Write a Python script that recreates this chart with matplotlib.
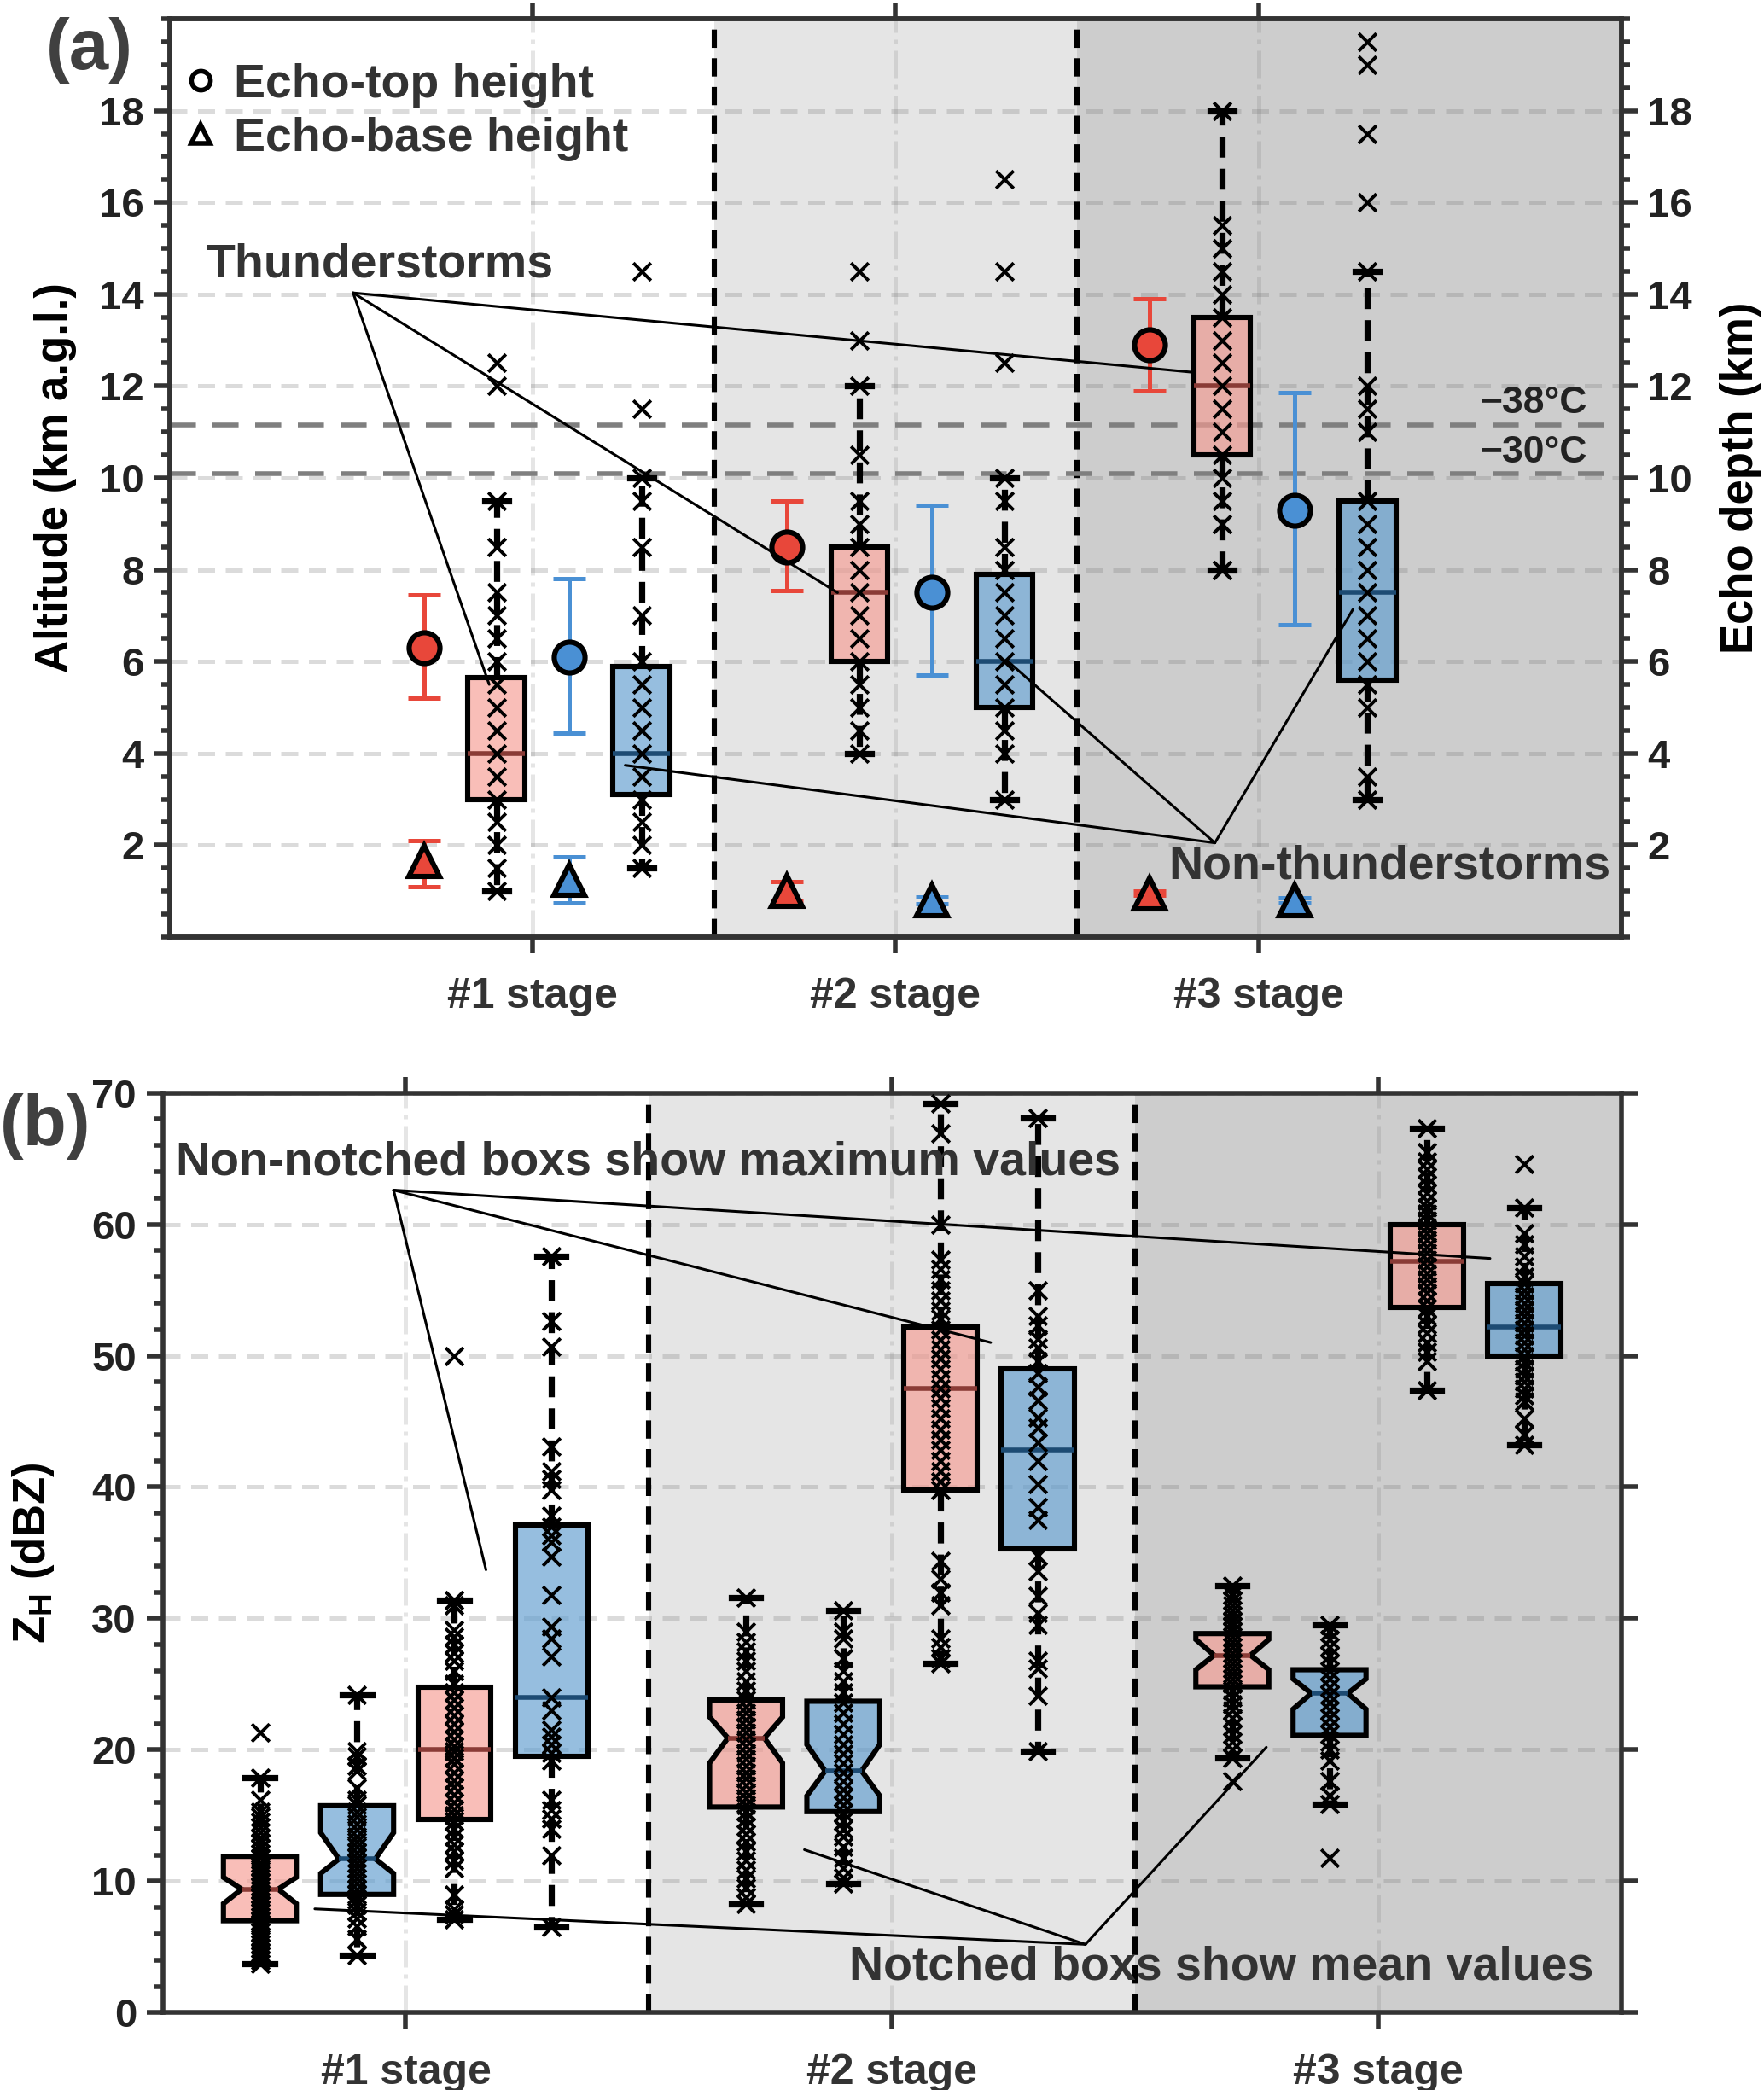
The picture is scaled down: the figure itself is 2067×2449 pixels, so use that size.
import matplotlib.pyplot as plt
import matplotlib.ticker as mticker
from matplotlib.lines import Line2D
import numpy as np

plt.rcParams['font.family'] = ['Liberation Sans', 'DejaVu Sans']
plt.rcParams['font.weight'] = 'bold'
plt.rcParams['mathtext.fontset'] = 'custom'
plt.rcParams['mathtext.rm'] = 'Liberation Sans:bold'
plt.rcParams['mathtext.bf'] = 'Liberation Sans:bold'
plt.rcParams['mathtext.it'] = 'Liberation Sans:bold'

# ---------------- data ----------------
stages = ['#1 stage', '#2 stage', '#3 stage']
stage_x = np.array([1, 2, 3])

# (a) echo-top / echo-base heights (mean and range)
top_thund = [6.3, 8.5, 12.9]
top_thund_lo = [5.2, 7.55, 11.9]
top_thund_hi = [7.45, 9.5, 13.9]
top_non = [6.1, 7.5, 9.3]
top_non_lo = [4.45, 5.7, 6.8]
top_non_hi = [7.8, 9.4, 11.85]
base_thund = [1.65, 1.0, 0.95]
base_thund_lo = [1.1, 0.8, 0.9]
base_thund_hi = [2.1, 1.2, 1.0]
base_non = [1.25, 0.8, 0.8]
base_non_lo = [0.75, 0.72, 0.75]
base_non_hi = [1.75, 0.88, 0.85]

# (a) echo depth boxes
depth_thund_q1 = [3.0, 6.0, 10.5]
depth_thund_med = [4.0, 7.5, 12.0]
depth_thund_q3 = [5.65, 8.5, 13.5]
depth_thund_lo = [1.0, 4.0, 8.0]
depth_thund_hi = [9.5, 12.0, 18.0]
depth_non_q1 = [3.1, 5.0, 5.6]
depth_non_med = [4.0, 6.0, 7.5]
depth_non_q3 = [5.9, 7.9, 9.5]
depth_non_lo = [1.5, 3.0, 3.0]
depth_non_hi = [10.0, 10.0, 14.5]

depth_thund_pts = [
    [1.0, 1.5, 2.0, 2.5, 3.0, 3.5, 4.0, 4.5, 5.0, 5.5, 6.0, 6.5, 7.0, 7.5, 8.5, 9.5, 12.0, 12.5],
    [4.0, 4.5, 5.0, 5.5, 6.0, 6.5, 7.0, 7.5, 8.0, 8.5, 9.0, 9.5, 10.5, 12.0, 13.0, 14.5],
    [8.0, 9.0, 9.5, 10.0, 10.5, 11.0, 11.5, 12.0, 12.5, 13.0, 13.5, 14.0, 14.5, 15.0, 15.5, 18.0],
]
depth_non_pts = [
    [1.5, 2.0, 2.5, 3.0, 3.5, 4.0, 4.5, 5.0, 5.5, 6.0, 7.0, 8.5, 9.5, 10.0, 11.5, 14.5],
    [3.0, 4.0, 4.5, 5.0, 5.5, 6.0, 6.5, 7.0, 7.5, 8.0, 8.5, 9.5, 10.0, 12.5, 14.5, 16.5],
    [3.0, 3.5, 5.0, 5.5, 6.0, 6.5, 7.0, 7.5, 8.0, 8.5, 9.0, 9.5, 11.0, 11.5, 12.0, 14.5,
     16.0, 17.5, 19.0, 19.5],
]
iso_38, iso_30 = 11.15, 10.1

# (b) ZH mean values (notched)
mean_thund_q1 = [7.0, 15.65, 24.8]
mean_thund_med = [9.4, 20.9, 27.2]
mean_thund_q3 = [11.9, 23.8, 28.85]
mean_thund_cilo = [8.3, 19.0, 26.1]
mean_thund_cihi = [10.3, 22.5, 28.4]
mean_thund_lo = [3.7, 8.3, 19.4]
mean_thund_hi = [17.9, 31.6, 32.5]
mean_non_q1 = [9.0, 15.3, 21.1]
mean_non_med = [11.7, 18.4, 24.3]
mean_non_q3 = [15.75, 23.7, 26.1]
mean_non_cilo = [10.6, 16.5, 23.1]
mean_non_cihi = [13.7, 20.4, 25.4]
mean_non_lo = [4.4, 9.8, 15.9]
mean_non_hi = [24.2, 30.6, 29.5]

# (b) ZH maximum values (plain)
max_thund_q1 = [14.7, 39.8, 53.7]
max_thund_med = [20.0, 47.5, 57.2]
max_thund_q3 = [24.8, 52.2, 60.0]
max_thund_lo = [7.1, 26.6, 47.4]
max_thund_hi = [31.4, 69.2, 67.3]
max_non_q1 = [19.5, 35.3, 50.0]
max_non_med = [24.0, 42.8, 52.2]
max_non_q3 = [37.1, 49.0, 55.5]
max_non_lo = [6.5, 19.9, 43.2]
max_non_hi = [57.6, 68.1, 61.3]

mean_thund_pts = [
    [3.7, 4.0, 4.3, 4.6, 4.9, 5.2, 5.5, 5.8, 6.1, 6.4, 6.8, 7.0, 7.3, 7.6, 7.9, 8.2, 8.5, 8.8,
     9.0, 9.3, 9.6, 9.9, 10.2, 10.5, 10.8, 11.1, 11.4, 11.8, 12.1, 12.5, 12.9, 13.3, 13.7,
     14.1, 14.5, 14.9, 15.3, 16.2, 17.9, 21.3],
    [8.3, 8.8, 9.5, 10.2, 10.9, 11.6, 12.3, 13.0, 13.6, 14.2, 14.8, 15.3, 15.8, 16.3, 16.8,
     17.3, 17.8, 18.3, 18.8, 19.3, 19.8, 20.3, 20.8, 21.3, 21.8, 22.3, 22.8, 23.3, 23.8,
     24.5, 25.2, 26.0, 26.8, 27.5, 28.2, 29.0, 31.6],
    [17.6, 19.4, 20.0, 20.6, 21.2, 21.8, 22.4, 23.0, 23.5, 24.0, 24.5, 25.0, 25.4, 25.8,
     26.2, 26.6, 27.0, 27.4, 27.8, 28.2, 28.6, 29.0, 29.4, 29.8, 30.2, 30.6, 31.0, 31.4,
     31.8, 32.5],
]
mean_non_pts = [
    [4.4, 5.6, 6.6, 7.2, 7.7, 8.2, 8.6, 9.0, 9.4, 9.8, 10.2, 10.6, 11.0, 11.4, 11.8, 12.2,
     12.6, 13.0, 13.4, 13.9, 14.4, 14.9, 15.3, 15.8, 16.2, 17.1, 18.4, 18.8, 19.5, 19.9, 24.2],
    [9.8, 10.3, 11.0, 11.8, 12.6, 13.4, 14.0, 14.6, 15.2, 15.8, 16.4, 17.0, 17.6, 18.3, 19.0,
     19.7, 20.4, 21.2, 22.0, 22.8, 23.6, 24.4, 25.2, 26.0, 27.0, 28.5, 29.0, 30.6],
    [11.8, 15.9, 16.5, 17.6, 19.2, 20.0, 20.6, 21.2, 21.8, 22.4, 23.0, 23.6, 24.2, 24.8,
     25.4, 26.0, 26.6, 27.2, 27.8, 28.4, 29.0, 29.5],
]
max_thund_pts = [
    [7.1, 7.5, 7.9, 9.0, 11.0, 11.6, 12.3, 12.8, 13.4, 14.0, 14.6, 15.0, 15.5, 16.0, 16.6,
     17.2, 17.7, 18.3, 18.9, 19.4, 19.9, 20.3, 20.8, 21.4, 22.0, 22.6, 23.2, 23.8, 24.4,
     25.0, 26.0, 26.8, 27.4, 28.0, 28.6, 29.1, 31.0, 31.4, 50.0],
    [26.6, 27.0, 27.8, 28.5, 31.0, 32.0, 33.0, 34.4, 39.8, 40.4, 41.2, 42.0, 42.8, 43.6,
     44.4, 45.2, 46.0, 46.8, 47.5, 48.2, 49.0, 49.8, 50.5, 51.2, 52.0, 52.8, 53.4, 54.2,
     55.0, 55.8, 56.6, 57.3, 60.0, 66.9, 69.2],
    [47.4, 49.6, 50.3, 51.0, 51.7, 52.4, 53.0, 53.6, 54.2, 54.8, 55.3, 55.8, 56.3, 56.8,
     57.3, 57.8, 58.3, 58.8, 59.3, 59.8, 60.3, 60.8, 61.3, 61.8, 62.4, 63.0, 63.6, 64.2,
     64.8, 65.5, 67.3],
]
max_non_pts = [
    [6.5, 12.0, 14.0, 14.8, 15.4, 16.2, 19.2, 19.8, 20.4, 21.0, 21.5, 23.0, 24.0, 27.1,
     28.5, 29.4, 31.8, 34.7, 35.8, 36.3, 37.0, 37.8, 39.8, 40.6, 41.2, 43.1, 50.7, 52.6, 57.6],
    [19.9, 24.1, 26.2, 26.8, 29.5, 30.4, 31.7, 33.6, 34.8, 37.5, 38.5, 40.2, 42.0, 43.4,
     44.5, 45.3, 46.6, 47.6, 48.7, 49.6, 50.6, 51.3, 52.3, 53.0, 55.0, 68.1],
    [43.2, 44.0, 45.2, 46.5, 47.0, 47.5, 48.0, 48.5, 49.0, 49.5, 50.0, 50.5, 51.0, 51.5,
     52.0, 52.5, 53.0, 53.5, 54.0, 54.5, 55.0, 55.5, 56.0, 56.8, 57.6, 58.5, 59.3, 61.3, 64.6],
]

# ---------------- styles ----------------
RED = '#e8473a'
BLUE = '#4a90d4'
RED_FACE = (0.965, 0.61, 0.575, 0.65)
BLUE_FACE = (0.37, 0.61, 0.81, 0.65)
RED_MED = '#8a3b36'
BLUE_MED = '#1d4b73'
SPINE = '#333333'
TXT = '#333333'


def draw_boxes(ax, pos, q1, med, q3, lo, hi, face, medc, width, capw,
               notch=False, cilo=None, cihi=None):
    stats = []
    for i in range(len(pos)):
        d = dict(q1=q1[i], med=med[i], q3=q3[i], whislo=lo[i], whishi=hi[i], fliers=[])
        if notch:
            d['cilo'] = cilo[i]
            d['cihi'] = cihi[i]
        stats.append(d)
    ax.bxp(stats, positions=pos, widths=width, patch_artist=True,
           shownotches=notch, showfliers=False, manage_ticks=False,
           boxprops=dict(facecolor=face, edgecolor='k', linewidth=2.2),
           medianprops=dict(color=medc, linewidth=2.0),
           whiskerprops=dict(color='k', linewidth=2.6, linestyle=(0, (3.4, 1.8))),
           capprops=dict(color='k', linewidth=2.6), capwidths=capw, zorder=3)


def draw_points(ax, pos, pts):
    for p, v in zip(pos, pts):
        ax.scatter(np.full(len(v), p), v, marker='x', color='k', s=55,
                   linewidths=1.4, zorder=4)


def style_axes(ax, minor_step):
    for s in ax.spines.values():
        s.set_color(SPINE)
        s.set_linewidth(2.0)
    ax.yaxis.set_minor_locator(mticker.MultipleLocator(minor_step))
    ax.tick_params(which='both', direction='out', color=SPINE, width=2.0,
                   top=True, labelcolor='#222222')
    ax.tick_params(which='major', length=7)
    ax.tick_params(which='minor', length=3.5)
    ax.tick_params(axis='y', labelsize=17, pad=4)
    ax.tick_params(axis='x', which='minor', top=False, bottom=False)
    ax.set_xticks(stage_x)
    ax.set_xticklabels(stages, fontsize=18, fontweight='bold', color=TXT)
    ax.tick_params(axis='x', pad=10, labelcolor=TXT)
    ax.set_axisbelow(True)
    ax.grid(axis='y', which='major', ls=(0, (4, 2.5)), lw=1.8, color='0.45', alpha=0.25)
    ax.grid(axis='x', which='major', ls='-.', lw=1.8, color='0.45', alpha=0.18)


def line(ax, start, end):
    ax.annotate('', xy=end, xytext=start,
                arrowprops=dict(arrowstyle='-', lw=1.1, color='k', shrinkA=0, shrinkB=0),
                zorder=6)


fig = plt.figure(figsize=(10.335, 12.245), dpi=200)

# ================= panel (a) =================
ax = fig.add_axes([0.0963, 0.5517, 0.8228, 0.4393])
ax.set_xlim(0, 4)
ax.set_ylim(0, 20)
ax.axvspan(1.5, 2.5, color='#e5e5e5', zorder=0, lw=0)
ax.axvspan(2.5, 4.0, color='#cdcdcd', zorder=0, lw=0)
for xd in [1.5, 2.5]:
    ax.axvline(xd, color='k', lw=2.2, ls=(0, (3.5, 2.0)), zorder=2)
for yt in [iso_38, iso_30]:
    ax.axhline(yt, color='#7f7f7f', lw=2.0, ls=(0, (5.5, 3.5)), zorder=2)

draw_boxes(ax, stage_x - 0.1, depth_thund_q1, depth_thund_med, depth_thund_q3,
           depth_thund_lo, depth_thund_hi, RED_FACE, RED_MED, 0.157, 0.065)
draw_boxes(ax, stage_x + 0.3, depth_non_q1, depth_non_med, depth_non_q3,
           depth_non_lo, depth_non_hi, BLUE_FACE, BLUE_MED, 0.157, 0.065)
draw_points(ax, stage_x - 0.1, depth_thund_pts)
draw_points(ax, stage_x + 0.3, depth_non_pts)

for xs, y, lo, hi, c, m in [
        (stage_x - 0.3, top_thund, top_thund_lo, top_thund_hi, RED, 'o'),
        (stage_x + 0.1, top_non, top_non_lo, top_non_hi, BLUE, 'o'),
        (stage_x - 0.3, base_thund, base_thund_lo, base_thund_hi, RED, '^'),
        (stage_x + 0.1, base_non, base_non_lo, base_non_hi, BLUE, '^')]:
    y = np.array(y)
    ax.errorbar(xs, y, yerr=[y - np.array(lo), np.array(hi) - y], fmt='none',
                ecolor=c, elinewidth=1.8, capsize=7, capthick=1.8, zorder=3)
    ax.plot(xs, y, m, mfc=c, mec='k', mew=2.2, ms=13, ls='none', zorder=5)

ax.text(3.905, 11.62, '\u221238\u00b0C', ha='right', va='center', fontsize=16, color='#222222')
ax.text(3.905, 10.55, '\u221230\u00b0C', ha='right', va='center', fontsize=16, color='#222222')

# annotations
ax.text(0.1, 14.64, 'Thunderstorms', ha='left', va='center', fontsize=20, color=TXT, zorder=7)
apex = (0.505, 14.03)
for end in [(0.88, 5.5), (1.84, 7.5), (2.82, 12.3)]:
    line(ax, apex, end)
ax.text(3.97, 1.54, 'Non-thunderstorms', ha='right', va='center', fontsize=20, color=TXT, zorder=7)
apex = (2.88, 2.05)
for end in [(1.255, 3.74), (2.31, 6.0), (3.26, 7.13)]:
    line(ax, apex, end)

handles = [Line2D([], [], marker='o', ls='none', mfc='white', mec='k', mew=2, ms=8),
           Line2D([], [], marker='^', ls='none', mfc='white', mec='k', mew=2, ms=8)]
ax.legend(handles, ['Echo-top height', 'Echo-base height'], loc='upper left',
          bbox_to_anchor=(0.008, 0.952), frameon=False, handlelength=0.8,
          handletextpad=0.3, labelspacing=0.2, borderpad=0, borderaxespad=0,
          labelcolor=TXT, prop=dict(weight='bold', size=20))

style_axes(ax, 0.5)
ax.set_yticks(np.arange(2, 19, 2))
ax.tick_params(axis='y', right=False)
ax.set_ylabel('Altitude (km a.g.l.)', fontsize=19, fontweight='bold')
ax.yaxis.set_label_coords(-0.064, 0.5)

ax2 = ax.twinx()
ax2.set_ylim(0, 20)
ax2.set_yticks(np.arange(2, 19, 2))
ax2.yaxis.set_minor_locator(mticker.MultipleLocator(0.5))
for s in ax2.spines.values():
    s.set_color(SPINE)
    s.set_linewidth(2.0)
ax2.tick_params(which='both', direction='out', color=SPINE, width=2.0, labelsize=17,
                labelcolor='#222222', pad=4)
ax2.tick_params(which='major', length=7)
ax2.tick_params(which='minor', length=3.5)
ax2.set_ylabel('Echo depth (km)', fontsize=19, fontweight='bold')
ax2.yaxis.set_label_coords(1.068, 0.5)

fig.text(0.026, 0.976, '(a)', fontsize=30, fontweight='bold', ha='left', va='center', color='#404040')

# ================= panel (b) =================
bx = fig.add_axes([0.0922, 0.0370, 0.8269, 0.4401])
bx.set_xlim(0.5, 3.5)
bx.set_ylim(0, 70)
bx.axvspan(1.5, 2.5, color='#e5e5e5', zorder=0, lw=0)
bx.axvspan(2.5, 3.5, color='#cdcdcd', zorder=0, lw=0)
for xd in [1.5, 2.5]:
    bx.axvline(xd, color='k', lw=2.2, ls=(0, (3.5, 2.0)), zorder=2)

draw_boxes(bx, stage_x - 0.3, mean_thund_q1, mean_thund_med, mean_thund_q3,
           mean_thund_lo, mean_thund_hi, RED_FACE, RED_MED, 0.15, 0.06,
           notch=True, cilo=mean_thund_cilo, cihi=mean_thund_cihi)
draw_boxes(bx, stage_x - 0.1, mean_non_q1, mean_non_med, mean_non_q3,
           mean_non_lo, mean_non_hi, BLUE_FACE, BLUE_MED, 0.15, 0.06,
           notch=True, cilo=mean_non_cilo, cihi=mean_non_cihi)
draw_boxes(bx, stage_x + 0.1, max_thund_q1, max_thund_med, max_thund_q3,
           max_thund_lo, max_thund_hi, RED_FACE, RED_MED, 0.15, 0.06)
draw_boxes(bx, stage_x + 0.3, max_non_q1, max_non_med, max_non_q3,
           max_non_lo, max_non_hi, BLUE_FACE, BLUE_MED, 0.15, 0.06)
draw_points(bx, stage_x - 0.3, mean_thund_pts)
draw_points(bx, stage_x - 0.1, mean_non_pts)
draw_points(bx, stage_x + 0.1, max_thund_pts)
draw_points(bx, stage_x + 0.3, max_non_pts)

bx.text(0.527, 64.7, 'Non-notched boxs show maximum values', ha='left', va='center',
        fontsize=20, color=TXT, zorder=7)
apex = (0.975, 62.6)
for end in [(1.165, 33.7), (2.203, 51.0), (3.23, 57.4)]:
    line(bx, apex, end)
bx.text(1.912, 3.45, 'Notched boxs show mean values', ha='left', va='center',
        fontsize=20, color=TXT, zorder=7)
apex = (2.398, 5.2)
for end in [(0.813, 7.9), (1.82, 12.4), (2.77, 20.2)]:
    line(bx, apex, end)

style_axes(bx, 2)
bx.set_yticks(np.arange(0, 71, 10))
bx.tick_params(axis='y', right=True, labelright=False)
bx.set_ylabel('Z$_{\\mathbf{H}}$ (dBZ)', fontsize=19, fontweight='bold')
bx.yaxis.set_label_coords(-0.073, 0.5)

fig.text(0.0, 0.461, '(b)', fontsize=30, fontweight='bold', ha='left', va='center', color='#404040')

fig.savefig('out.png', dpi=200)
